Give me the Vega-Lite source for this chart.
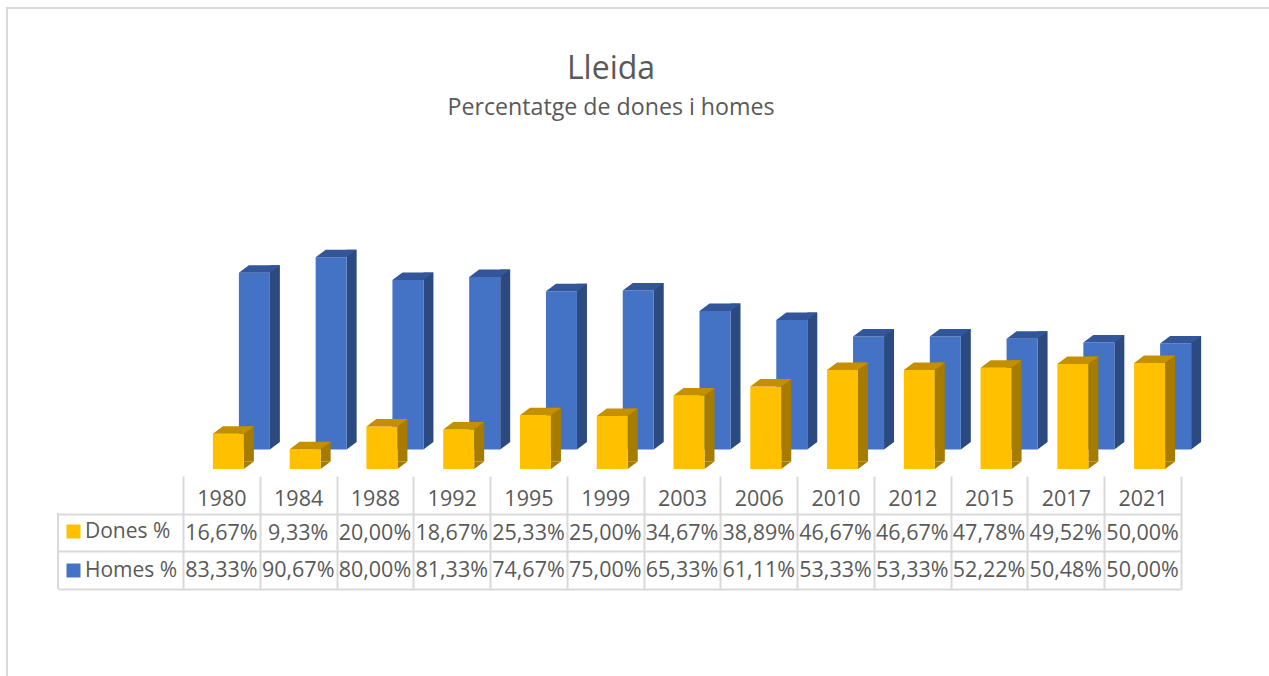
{"$schema":"https://vega.github.io/schema/vega-lite/v6.json","width":1265,"height":671,"padding":{"left":7,"top":8,"right":-3,"bottom":-3},"autosize":"none","background":"white",
"config":{"view":{"stroke":"#d9d9d9","strokeWidth":2},"locale":{"number":{"decimal":",","thousands":".","grouping":[3],"currency":["","€"]}},"font":"Open Sans"},
"title":{"text":"Lleida","subtitle":"Percentatge de dones i homes","frame":"group","anchor":"start","dx":604,"dy":116,"fontSize":32,"fontWeight":"normal","color":"#595959","subtitleFontSize":23.2,"subtitleColor":"#595959","subtitleFont":"Open Sans","font":"Open Sans","subtitlePadding":11,"align":"center"},
"data":{"values":[
{"year":"1980","serie":"Dones %","share":0.1667},{"year":"1984","serie":"Dones %","share":0.0933},{"year":"1988","serie":"Dones %","share":0.2},{"year":"1992","serie":"Dones %","share":0.1867},{"year":"1995","serie":"Dones %","share":0.2533},{"year":"1999","serie":"Dones %","share":0.25},{"year":"2003","serie":"Dones %","share":0.3467},{"year":"2006","serie":"Dones %","share":0.3889},{"year":"2010","serie":"Dones %","share":0.4667},{"year":"2012","serie":"Dones %","share":0.4667},{"year":"2015","serie":"Dones %","share":0.4778},{"year":"2017","serie":"Dones %","share":0.4952},{"year":"2021","serie":"Dones %","share":0.5},
{"year":"1980","serie":"Homes %","share":0.8333},{"year":"1984","serie":"Homes %","share":0.9067},{"year":"1988","serie":"Homes %","share":0.8},{"year":"1992","serie":"Homes %","share":0.8133},{"year":"1995","serie":"Homes %","share":0.7467},{"year":"1999","serie":"Homes %","share":0.75},{"year":"2003","serie":"Homes %","share":0.6533},{"year":"2006","serie":"Homes %","share":0.6111},{"year":"2010","serie":"Homes %","share":0.5333},{"year":"2012","serie":"Homes %","share":0.5333},{"year":"2015","serie":"Homes %","share":0.5222},{"year":"2017","serie":"Homes %","share":0.5048},{"year":"2021","serie":"Homes %","share":0.5}
]},
"encoding":{"x":{"field":"year","type":"nominal","title":null,"scale":{"domain":["1980","1984","1988","1992","1995","1999","2003","2006","2010","2012","2015","2017","2021"],"range":[176,1174],"paddingInner":0,"paddingOuter":0},"axis":{"orient":"bottom","offset":-203,"domain":false,"grid":false,"tickBand":"extent","tickSize":113,"tickWidth":2,"tickColor":"#d9d9d9","labelAngle":0,"labelFontSize":21.5,"labelColor":"#595959","labelPadding":-90,"labelBaseline":"middle","labelFont":"Open Sans"}}},
"layer":[
{"transform":[{"filter":"datum.serie==='Homes %'"}],"mark":{"type":"bar","width":10,"xOffset":53.5,"color":"#2a4a80"},"encoding":{"y":{"field":"share","type":"quantitative","stack":null,"axis":null,"scale":{"domain":[0,1],"range":[434,222]}}}},
{"transform":[{"filter":"datum.serie==='Homes %'"}],"mark":{"type":"point","filled":true,"opacity":1,"size":4,"strokeWidth":0,"xOffset":48.5,"color":"#2a4a80","shape":"M0,0L10,-7.5L0,-7.5Z"},"encoding":{"y":{"datum":0,"type":"quantitative","axis":null,"scale":{"domain":[0,1],"range":[441.5,229.5]}}}},
{"transform":[{"filter":"datum.serie==='Homes %'"}],"mark":{"type":"bar","width":31,"xOffset":33},"encoding":{"y":{"field":"share","type":"quantitative","stack":null,"axis":null,"scale":{"domain":[0,1],"range":[441.5,229.5]}},"color":{"field":"serie","type":"nominal","scale":{"domain":["Dones %","Homes %"],"range":["#ffc000","#4472c4"]},"legend":{"orient":"none","legendX":56,"legendY":513,"title":null,"symbolType":"square","symbolSize":196,"labelFontSize":21,"labelColor":"#595959","rowPadding":17,"labelOffset":1,"labelFont":"Open Sans"}}}},
{"transform":[{"filter":"datum.serie==='Homes %'"}],"mark":{"type":"point","filled":true,"opacity":1,"size":4,"strokeWidth":0,"xOffset":33,"color":"#33569a","shape":"M-15.5,0L15.5,0L25.5,-7.5L-5.5,-7.5Z"},"encoding":{"y":{"field":"share","type":"quantitative","axis":null,"scale":{"domain":[0,1],"range":[441.5,229.5]}}}},
{"transform":[{"filter":"datum.serie==='Dones %'"}],"mark":{"type":"bar","width":10,"xOffset":27.5,"color":"#a67c00"},"encoding":{"y":{"field":"share","type":"quantitative","stack":null,"axis":null,"scale":{"domain":[0,1],"range":[453.5,241.5]}}}},
{"transform":[{"filter":"datum.serie==='Dones %'"}],"mark":{"type":"point","filled":true,"opacity":1,"size":4,"strokeWidth":0,"xOffset":22.5,"color":"#a67c00","shape":"M0,0L10,-7.5L0,-7.5Z"},"encoding":{"y":{"datum":0,"type":"quantitative","axis":null,"scale":{"domain":[0,1],"range":[461,249]}}}},
{"transform":[{"filter":"datum.serie==='Dones %'"}],"mark":{"type":"bar","width":31,"xOffset":7},"encoding":{"y":{"field":"share","type":"quantitative","stack":null,"axis":null,"scale":{"domain":[0,1],"range":[461,249]}},"color":{"field":"serie","type":"nominal","scale":{"domain":["Dones %","Homes %"],"range":["#ffc000","#4472c4"]}}}},
{"transform":[{"filter":"datum.serie==='Dones %'"}],"mark":{"type":"point","filled":true,"opacity":1,"size":4,"strokeWidth":0,"xOffset":7,"color":"#c49000","shape":"M-15.5,0L15.5,0L25.5,-7.5L-5.5,-7.5Z"},"encoding":{"y":{"field":"share","type":"quantitative","axis":null,"scale":{"domain":[0,1],"range":[461,249]}}}},
{"mark":{"type":"text","fontSize":21.5,"color":"#595959","font":"Open Sans","dy":1},"encoding":{"y":{"field":"serie","type":"nominal","title":null,"scale":{"domain":["Any","Dones %","Homes %"],"range":[468,581],"paddingInner":0,"paddingOuter":0},"axis":{"orient":"left","offset":-1174,"labels":false,"domain":false,"grid":false,"title":null,"tickBand":"extent","tickSize":1123,"tickWidth":2,"tickColor":"#d9d9d9","tickOpacity":{"expr":"datum.extra?0:1"}}},"text":{"field":"share","type":"quantitative","format":".2%"}}},
{"mark":{"type":"rule","xOffset":-125,"color":"#d9d9d9","strokeWidth":2},"encoding":{"x":{"datum":"1980","bandPosition":0},"y":{"datum":0,"type":"quantitative","axis":null,"scale":{"domain":[0,1],"range":[505,581]}},"y2":{"datum":1}}}
],
"resolve":{"scale":{"y":"independent"}}}
